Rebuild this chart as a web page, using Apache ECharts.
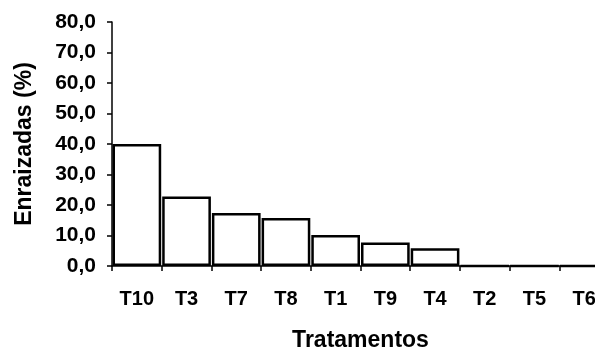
<!DOCTYPE html>
<html>
<head>
<meta charset="utf-8">
<script src="https://cdn.jsdelivr.net/npm/echarts@6/dist/echarts.min.js"></script>
<style>
html,body{margin:0;padding:0;background:#fff;}
#chart{width:595px;height:352px;}
</style>
</head>
<body>
<div id="chart"></div>
<script>
const categories = ['T10','T3','T7','T8','T1','T9','T4','T2','T5','T6'];
const enraizadas = [40.0, 22.8, 17.4, 15.7, 10.2, 7.7, 5.8, 0, 0, 0];
const yTicks = [0, 10, 20, 30, 40, 50, 60, 70, 80];

const font = 'Liberation Sans';
const chart = echarts.init(document.getElementById('chart'), null, {renderer:'canvas'});
chart.setOption({
  backgroundColor: '#ffffff',
  animation: false,
  grid: {left: 112, width: 497, top: 22, height: 244, containLabel: false, outerBoundsMode: 'none'},
  xAxis: {
    type: 'category',
    data: categories,
    name: 'Tratamentos',
    nameLocation: 'middle',
    nameGap: 63,
    nameTextStyle: {fontFamily: font, fontSize: 23, fontWeight: 'bold', color: '#000'},
    axisLine: {show: true, lineStyle: {color: '#000', width: 1.5}},
    axisTick: {show: true, alignWithLabel: false, length: 5, lineStyle: {color: '#000', width: 1.5}},
    axisLabel: {fontFamily: font, fontSize: 20, fontWeight: 'bold', color: '#000', margin: 23, interval: 0},
    splitLine: {show: false}
  },
  yAxis: {
    type: 'value',
    min: yTicks[0],
    max: yTicks[yTicks.length - 1],
    interval: 10,
    name: 'Enraizadas (%)',
    nameLocation: 'middle',
    nameGap: 76,
    nameTextStyle: {fontFamily: font, fontSize: 23, fontWeight: 'bold', color: '#000'},
    axisLine: {show: true, lineStyle: {color: '#000', width: 1.5}},
    axisTick: {show: true, length: 5, lineStyle: {color: '#000', width: 1.5}},
    axisLabel: {
      fontFamily: font, fontSize: 21, fontWeight: 'bold', color: '#000', margin: 16,
      formatter: v => v.toFixed(1).replace('.', ',')
    },
    splitLine: {show: false}
  },
  series: [{
    type: 'bar',
    data: enraizadas,
    barCategoryGap: '2%',
    itemStyle: {color: '#ffffff', borderColor: '#000', borderWidth: 2.5}
  }]
});
</script>
</body>
</html>
